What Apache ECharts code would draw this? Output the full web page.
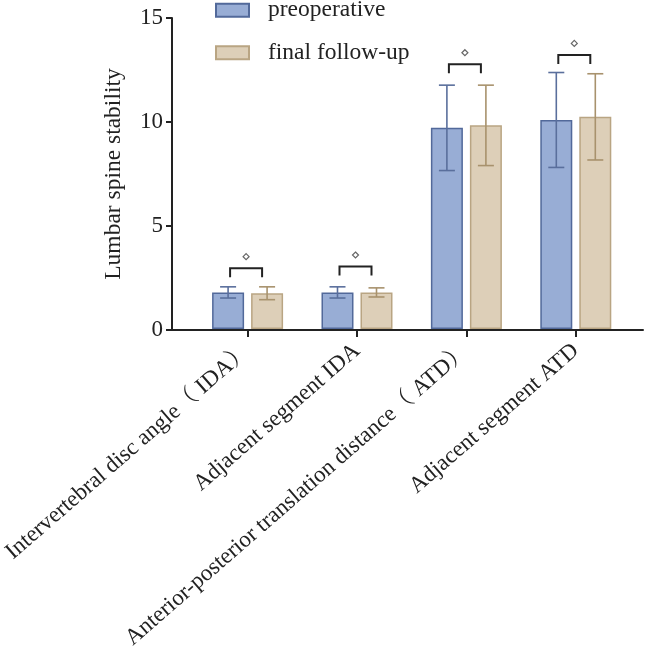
<!DOCTYPE html>
<html>
<head>
<meta charset="utf-8">
<script src="https://cdn.jsdelivr.net/npm/echarts@6/dist/echarts.min.js"></script>
<style>
html,body{margin:0;padding:0;background:#fff;}
#chart{width:646px;height:652px;}
</style>
</head>
<body>
<div id="chart"></div>
<script>
var categories = ['Intervertebral disc angle（ IDA）', 'Adjacent segment IDA', 'Anterior-posterior translation distance（ ATD）', 'Adjacent segment ATD'];
var seriesNames = ['preoperative', 'final follow-up'];
var preMean = [1.76, 1.76, 9.70, 10.08];
var preSD = [0.27, 0.27, 2.06, 2.29];
var finalMean = [1.72, 1.76, 9.82, 10.23];
var finalSD = [0.31, 0.22, 1.94, 2.08];
var bracketY = [2.93, 3.01, 12.77, 13.22];
var yTicks = [0, 5, 10, 15];

var FONT = "'Liberation Serif', 'Noto Serif CJK SC', 'Noto Sans CJK SC', serif";
var BAR_W = 32, BAR_GAP = 7;
var OFF = (BAR_W + BAR_GAP) / 2;
var colors = {
  pre: {fill: '#98add5', border: '#52699a', err: '#5a6f9c'},
  fin: {fill: '#ddcfb8', border: '#b9a583', err: '#a8926d'}
};

function errItem(sign, color) {
  return function (params, api) {
    var idx = api.value(0), m = api.value(1), sd = api.value(2);
    var top = api.coord([idx, m + sd]);
    var bot = api.coord([idx, m - sd]);
    var x = top[0] + sign * OFF;
    var cw = 8;
    var st = {stroke: color, lineWidth: 1.6, fill: null};
    return {type: 'group', children: [
      {type: 'line', shape: {x1: x, y1: top[1], x2: x, y2: bot[1]}, style: st},
      {type: 'line', shape: {x1: x - cw, y1: top[1], x2: x + cw, y2: top[1]}, style: st},
      {type: 'line', shape: {x1: x - cw, y1: bot[1], x2: x + cw, y2: bot[1]}, style: st}
    ]};
  };
}

var chart = echarts.init(document.getElementById('chart'), null, {renderer: 'canvas'});
var option = {
  animation: false,
  backgroundColor: '#fff',
  legend: {
    orient: 'vertical', left: 215, top: -1.5, padding: 0,
    itemWidth: 33, itemHeight: 13, itemGap: 19,
    icon: 'rect',
    textStyle: {fontFamily: FONT, fontSize: 23.5, color: '#222', lineHeight: 20, padding: [0, 0, 0, 14]},
    data: seriesNames
  },
  grid: [
    {left: 186.5, right: 15.5, top: 18, bottom: 322},
    {left: 172, right: 3, top: 18, bottom: 322}
  ],
  xAxis: [
    {
      type: 'category', gridIndex: 0, data: categories,
      axisLine: {show: false},
      axisTick: {show: true, alignWithLabel: true, length: 8, lineStyle: {color: '#222', width: 2}},
      axisLabel: {interval: 0, rotate: 41, margin: 19, fontFamily: FONT, fontSize: 23, color: '#222'}
    },
    {
      type: 'value', gridIndex: 1, min: 0, max: 1,
      axisLine: {show: true, lineStyle: {color: '#222', width: 2}},
      axisTick: {show: false}, axisLabel: {show: false}, splitLine: {show: false}
    }
  ],
  yAxis: [
    {type: 'value', gridIndex: 0, min: 0, max: 15, interval: 5, show: false},
    {
      type: 'value', gridIndex: 1, min: yTicks[0], max: yTicks[yTicks.length - 1], interval: 5,
      name: 'Lumbar spine stability', nameLocation: 'middle', nameGap: 46, nameRotate: 90,
      nameTextStyle: {fontFamily: FONT, fontSize: 23.5, color: '#222'},
      axisLine: {show: true, lineStyle: {color: '#222', width: 2}},
      axisTick: {show: true, length: 6, lineStyle: {color: '#222', width: 2}},
      axisLabel: {margin: 9, fontFamily: FONT, fontSize: 23, color: '#222'},
      splitLine: {show: false}
    }
  ],
  series: [
    {
      name: seriesNames[0], type: 'bar', xAxisIndex: 0, yAxisIndex: 0,
      data: preMean, barWidth: BAR_W, barGap: (BAR_GAP / BAR_W * 100) + '%',
      itemStyle: {color: colors.pre.fill, borderColor: colors.pre.border, borderWidth: 1.5}
    },
    {
      name: seriesNames[1], type: 'bar', xAxisIndex: 0, yAxisIndex: 0,
      data: finalMean, barWidth: BAR_W, barGap: (BAR_GAP / BAR_W * 100) + '%',
      itemStyle: {color: colors.fin.fill, borderColor: colors.fin.border, borderWidth: 1.5}
    },
    {
      type: 'custom', xAxisIndex: 0, yAxisIndex: 0, z: 5,
      renderItem: errItem(-1, colors.pre.err),
      data: preMean.map(function (m, i) { return [i, m, preSD[i]]; })
    },
    {
      type: 'custom', xAxisIndex: 0, yAxisIndex: 0, z: 5,
      renderItem: errItem(1, colors.fin.err),
      data: finalMean.map(function (m, i) { return [i, m, finalSD[i]]; })
    },
    {
      type: 'custom', xAxisIndex: 0, yAxisIndex: 0, z: 6,
      renderItem: function (params, api) {
        var p = api.coord([api.value(0), api.value(1)]);
        var cx = p[0] - 1.5;
        var hw = 16, leg = 9, cy = p[1] - 11.5, d = 3;
        return {type: 'group', children: [
          {type: 'polyline', shape: {points: [[cx - hw, p[1] + leg], [cx - hw, p[1]], [cx + hw, p[1]], [cx + hw, p[1] + leg]]},
           style: {stroke: '#222', lineWidth: 2, fill: null}},
          {type: 'polygon', shape: {points: [[cx, cy - d], [cx + d, cy], [cx, cy + d], [cx - d, cy]]},
           style: {stroke: '#666', lineWidth: 1.2, fill: '#fff'}}
        ]};
      },
      data: bracketY.map(function (v, i) { return [i, v]; })
    }
  ]
};
chart.setOption(option);
</script>
</body>
</html>
